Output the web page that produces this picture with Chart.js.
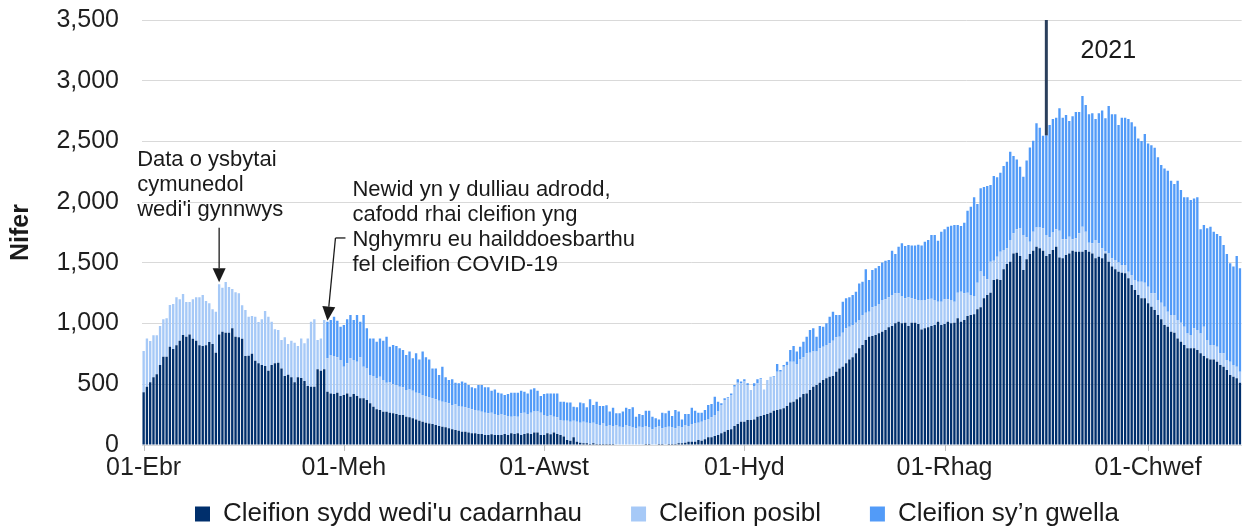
<!DOCTYPE html>
<html>
<head>
<meta charset="utf-8">
<script src="https://cdn.jsdelivr.net/npm/chart.js@4.4.1/dist/chart.umd.min.js"></script>
<style>
  html, body { margin: 0; padding: 0; background: #fff; }
  #wrap { position: relative; width: 1242px; height: 528px; }
</style>
</head>
<body>
<div id="wrap"><canvas id="hospChart"></canvas></div>
<script>
// Cleifion COVID-19 mewn ysbytai, dyddiol o 1 Ebrill 2020
var welshMonths = ['Ion','Chwef','Maw','Ebr','Mai','Meh','Gorff','Awst','Medi','Hyd','Tach','Rhag'];
var tickLabels = ['01-Ebr','01-Meh','01-Awst','01-Hyd','01-Rhag','01-Chwef'];
var seriesNames = ["Cleifion sydd wedi'u cadarnhau", 'Cleifion posibl', 'Cleifion sy\u2019n gwella'];
var seriesColors = ['#002f6c', '#a6c9f7', '#529bf8'];

var confirmed = [
  434,480,516,557,582,659,727,727,810,791,
  821,859,906,892,911,876,859,821,815,821,
  848,832,760,911,933,925,925,961,892,887,
  876,733,736,752,694,673,659,651,612,659,
  673,678,631,568,579,557,516,557,552,527,
  486,480,480,623,612,623,
  439,425,420,431,404,412,425,398,420,404,
  384,384,371,343,316,294,288,274,274,266,
  261,255,247,247,233,228,220,211,200,192,
  184,178,173,165,157,151,146,137,129,124,
  118,110,110,102,96,96,91,91,82,82,
  88,82,82,82,91,82,96,91,96,
  82,91,96,91,102,102,82,82,96,88,
  102,91,82,69,41,36,63,27,19,14,
  14,8,14,8,8,8,8,8,8,5,
  5,5,5,5,5,5,5,5,8,8,
  5,5,8,8,5,8,8,8,14,14,
  19,27,27,27,41,36,47,63,63,74,
  82,
  96,110,124,129,157,173,192,192,206,206,
  211,233,239,247,255,266,283,288,294,302,
  321,349,357,376,393,420,425,453,480,494,
  513,535,549,563,568,604,631,645,673,705,
  722,755,796,824,865,892,898,906,920,933,
  947,969,980,1002,1016,
  1002,1007,980,1007,1007,996,952,961,969,980,
  988,1016,988,996,1016,1002,1007,1043,1016,1029,
  1062,1071,1076,1117,1134,1208,1235,1254,1359,1364,
  1359,1447,1491,1510,1578,1584,1556,1441,1529,1573,
  1600,1633,1620,1600,1556,1573,1606,1633,1545,
  1537,1565,1578,1600,1592,1592,1592,1606,1592,1578,
  1537,1551,1537,1578,1510,1469,1447,1427,1419,1414,
  1373,1318,1276,1235,1208,1208,1167,1139,1112,1071,
  1035,988,974,933,925,878,851,824,796,796,
  796,782,755,733,714,705,705,686,659,645,
  618,576,563,549,513
];

var suspected = [
  340,398,340,346,321,321,308,316,343,370,
  395,341,337,286,267,324,357,395,420,365,
  319,285,338,412,363,417,376,324,365,362,
  274,379,321,310,363,340,376,452,445,357,
  280,269,234,319,253,302,327,258,326,310,
  392,536,555,242,266,407,
  275,316,313,291,296,233,248,316,280,282,
  338,261,260,233,252,255,275,261,239,253,
  241,239,233,228,220,230,227,220,225,220,
  219,214,211,211,208,206,203,206,200,211,
  200,206,200,200,198,192,192,183,184,179,
  178,173,165,173,153,157,137,148,137,
  179,175,159,175,173,173,184,165,143,159,
  131,137,124,131,159,156,137,165,165,178,
  170,170,170,165,157,170,148,157,148,160,
  146,140,160,151,140,132,146,140,148,137,
  124,140,148,129,140,143,137,129,142,131,
  146,129,146,151,143,156,159,148,165,173,
  193,
  233,261,260,283,323,340,316,330,288,247,
  275,275,302,211,280,297,280,316,310,343,
  338,337,329,291,312,302,330,307,289,275,
  283,275,275,274,291,283,261,280,288,269,
  266,252,233,247,225,206,236,239,241,261,
  253,247,255,247,233,
  220,201,236,201,193,198,237,233,231,225,
  206,164,192,204,184,192,173,211,247,220,
  192,164,151,220,294,184,129,256,159,187,
  233,159,129,178,165,192,228,288,181,101,
  157,159,172,184,173,137,143,143,220,
  157,129,138,94,110,151,206,151,74,83,
  151,110,83,20,68,68,76,75,63,68,
  54,82,83,110,137,129,137,110,137,123,
  137,151,124,138,146,151,156,150,123,110,
  165,165,164,241,151,119,119,124,96,110,
  82,110,96,96,91
];

var recovering = [
  0,0,0,0,0,0,0,0,0,0,
  0,0,0,0,0,0,0,0,0,0,
  0,0,0,0,0,0,0,0,0,0,
  0,0,0,0,0,0,0,0,0,0,
  0,0,0,0,0,0,0,0,0,0,
  0,0,0,0,0,0,
  302,288,324,302,274,343,362,357,329,385,
  294,426,330,302,310,302,315,324,379,291,
  321,321,316,307,288,311,267,324,280,357,
  319,313,247,255,211,288,208,192,212,178,
  190,206,203,192,181,179,211,220,209,214,
  181,203,184,170,168,181,198,192,198,
  186,173,170,192,192,172,138,173,186,178,
  192,197,151,157,149,157,116,118,165,151,
  126,198,145,184,156,143,171,110,151,96,
  110,130,142,140,165,96,104,102,127,138,
  104,75,55,129,116,132,94,151,119,66,
  90,99,134,105,82,74,82,118,110,151,
  82,
  14,13,9,13,14,28,14,19,14,0,
  22,33,8,0,0,0,5,63,14,14,
  27,96,129,102,105,129,137,187,192,123,
  184,164,178,220,239,184,179,255,247,242,
  247,256,302,274,357,261,307,310,313,308,
  318,307,365,324,384,
  439,431,431,434,442,456,453,480,488,524,
  535,503,577,576,598,611,632,558,540,582,
  676,728,813,648,686,733,769,631,697,653,
  651,692,713,728,637,576,508,481,632,777,
  749,857,821,763,821,925,936,920,1008,
  1002,1024,952,1013,1041,1000,1076,1043,1058,1071,
  997,1071,1134,1093,1214,1187,1201,1133,1214,1214,
  1258,1257,1263,1180,1158,1224,1178,1220,1199,1175,
  1134,1139,1161,1106,1078,1148,1093,1066,1121,1112,
  1070,1093,857,838,919,974,933,928,966,892,
  873,810,810,911,851
];

// nodiadau ar y siart
var yearMark = { at: '01-Ion', text: '2021', top: 3500, textValue: 3240 };
var notes = [
  { lines: ['Data o ysbytai', 'cymunedol', "wedi'i gynnwys"], at: '24-Ebr', textValue: 2345, from: 1790 },
  { lines: ['Newid yn y dulliau adrodd,', 'cafodd rhai cleifion yng', 'Nghymru eu hailddoesbarthu', 'fel cleifion COVID-19'], at: '27-Mai', textValue: 2100, from: 1705 }
];

var categories = [];
var day = new Date(2020, 3, 1);
for (var i = 0; i < confirmed.length; i++) {
  categories.push(('0' + day.getDate()).slice(-2) + '-' + welshMonths[day.getMonth()]);
  day.setDate(day.getDate() + 1);
}

var FONT = "'Liberation Sans', Arial, sans-serif";
Chart.defaults.font.family = FONT;
Chart.defaults.color = '#1f1f1f';

function stackTop(i) { return confirmed[i] + suspected[i] + recovering[i]; }

function arrow(ctx, x0, y0, x1, y1) {
  var ang = Math.atan2(y1 - y0, x1 - x0), len = 14, hw = 6.5;
  var bx = x1 - Math.cos(ang) * len, by = y1 - Math.sin(ang) * len;
  ctx.beginPath(); ctx.moveTo(x0, y0); ctx.lineTo(bx, by); ctx.stroke();
  ctx.beginPath();
  ctx.moveTo(x1, y1);
  ctx.lineTo(bx + Math.sin(ang) * hw, by - Math.cos(ang) * hw);
  ctx.lineTo(bx - Math.sin(ang) * hw, by + Math.cos(ang) * hw);
  ctx.closePath(); ctx.fill();
}

var notesPlugin = {
  id: 'notes',
  afterDatasetsDraw: function(chart) {
    var ctx = chart.ctx, xs = chart.scales.x, ys = chart.scales.y;
    ctx.save();
    // marciau ticio ar yr echelin x
    ctx.strokeStyle = '#bfbfbf'; ctx.lineWidth = 1;
    tickLabels.forEach(function(l) {
      var tx = Math.round(xs.getPixelForValue(categories.indexOf(l))) + 0.5;
      ctx.beginPath(); ctx.moveTo(tx, ys.bottom); ctx.lineTo(tx, ys.bottom + 6); ctx.stroke();
    });
    // llinell 2021
    var iy = categories.indexOf(yearMark.at);
    var lx = xs.getPixelForValue(iy);
    ctx.strokeStyle = '#2a3f5c'; ctx.lineWidth = 3;
    ctx.beginPath();
    ctx.moveTo(lx, ys.getPixelForValue(yearMark.top));
    ctx.lineTo(lx, ys.getPixelForValue(stackTop(iy)));
    ctx.stroke();
    ctx.fillStyle = '#1a1a1a';
    ctx.font = '25px ' + FONT;
    ctx.textAlign = 'center'; ctx.textBaseline = 'middle';
    ctx.fillText(yearMark.text, lx + 62, ys.getPixelForValue(yearMark.textValue));

    ctx.strokeStyle = '#1a1a1a'; ctx.lineWidth = 1.3;
    ctx.font = '22px ' + FONT; ctx.textAlign = 'left';
    // nodyn 1: saeth syth i lawr
    var n = notes[0], i1 = categories.indexOf(n.at);
    var x1 = xs.getPixelForValue(i1);
    arrow(ctx, x1, ys.getPixelForValue(n.from), x1, ys.getPixelForValue(stackTop(i1)) - 2);
    n.lines.forEach(function(t, k) { ctx.fillText(t, x1 - 82, ys.getPixelForValue(n.textValue) + k * 25); });
    // nodyn 2: saeth ar ongl
    n = notes[1];
    var i2 = categories.indexOf(n.at);
    var x2 = xs.getPixelForValue(i2), ey = ys.getPixelForValue(n.from);
    ctx.beginPath(); ctx.moveTo(x2 + 18, ey); ctx.lineTo(x2 + 8, ey); ctx.stroke();
    arrow(ctx, x2 + 8, ey, x2, ys.getPixelForValue(stackTop(i2)) - 1);
    n.lines.forEach(function(t, k) { ctx.fillText(t, x2 + 25, ys.getPixelForValue(n.textValue) + k * 25); });
    ctx.restore();
  }
};

// symud yr allwedd i'r un lle a'r gwreiddiol
var legendShift = {
  id: 'legendShift',
  afterLayout: function(chart) {
    var lg = chart.legend;
    lg.left += 36; lg.right += 36;
    lg.top = 452;
  }
};

var ctx = document.getElementById('hospChart').getContext('2d');
var hospChart = new Chart(ctx, {
  type: 'bar',
  data: {
    labels: categories,
    datasets: [
      { label: seriesNames[0], data: confirmed, backgroundColor: seriesColors[0] },
      { label: seriesNames[1], data: suspected, backgroundColor: seriesColors[1] },
      { label: seriesNames[2], data: recovering, backgroundColor: seriesColors[2] }
    ]
  },
  options: {
    responsive: true,
    maintainAspectRatio: false,
    animation: false,
    layout: { padding: { top: 2, right: 0, bottom: 0, left: 0 } },
    datasets: { bar: { barPercentage: 0.72, categoryPercentage: 1, borderWidth: 0 } },
    scales: {
      x: {
        stacked: true,
        grid: { drawOnChartArea: false, tickLength: 6, tickColor: 'rgba(0,0,0,0)' },
        border: { color: '#d9d9d9' },
        ticks: {
          autoSkip: false, maxRotation: 0, minRotation: 0, padding: 2,
          color: '#1f1f1f', font: { size: 25 },
          callback: function(v, idx) {
            var l = categories[idx];
            return tickLabels.indexOf(l) >= 0 ? l : '';
          }
        }
      },
      y: {
        stacked: true, min: 0, max: 3500,
        grid: { color: '#d9d9d9', drawTicks: true, tickLength: 18, tickColor: 'rgba(0,0,0,0)' },
        border: { display: false },
        ticks: {
          stepSize: 500, padding: 5, color: '#1f1f1f', font: { size: 25 },
          callback: function(v) { return v.toLocaleString('en-US'); }
        },
        title: { display: true, text: 'Nifer', color: '#1a1a1a', font: { size: 25, weight: 'bold' }, padding: { top: 6, bottom: 0 } },
        afterFit: function(scale) { scale.width = 142; }
      }
    },
    plugins: {
      legend: {
        position: 'bottom',
        maxHeight: 43,
        labels: { boxWidth: 15, boxHeight: 15, padding: 49, color: '#1a1a1a', font: { size: 26 } }
      },
      tooltip: { enabled: false }
    }
  },
  plugins: [notesPlugin, legendShift]
});
</script>
</body>
</html>
